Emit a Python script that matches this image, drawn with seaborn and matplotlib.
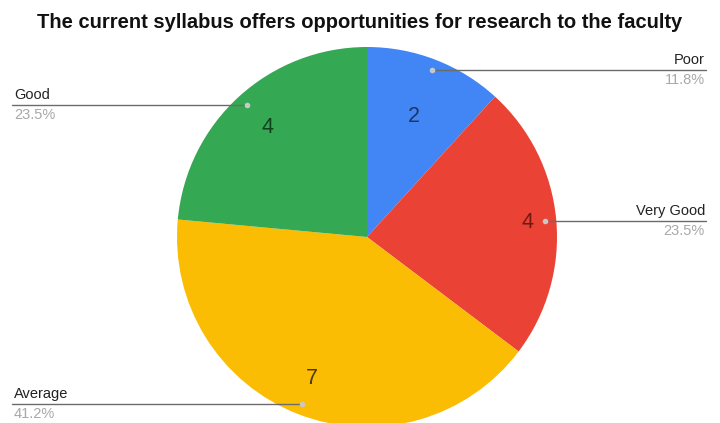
import numpy as np
import matplotlib
matplotlib.use("Agg")
import matplotlib.pyplot as plt
import seaborn as sns

# data
title = "The current syllabus offers opportunities for research to the faculty"
categories = ["Poor", "Very Good", "Average", "Good"]
counts = [2, 4, 7, 4]
colors = ["#4285F4", "#EA4335", "#FBBC04", "#34A853"]
value_colors = ["#1b3768", "#6e1a14", "#4a3a08", "#12401f"]

sns.set_theme(style="white")
plt.rcParams["font.family"] = ["Liberation Sans", "DejaVu Sans"]

W, H = 720, 423
fig = plt.figure(figsize=(W / 100, H / 100), dpi=100)
ax = fig.add_axes([0, 0, 1, 1])

cx, cy, R = 367, H - 237, 190
wedges, _ = ax.pie(counts, colors=colors, startangle=90, counterclock=False,
                   center=(cx, cy), radius=R, frame=True,
                   wedgeprops=dict(linewidth=0))
ax.set_xlim(0, W)
ax.set_ylim(0, H)
ax.axis("off")

total = sum(counts)
value_r = [0.68, 0.85, 0.80, 0.78]
for i, (w, n, cat) in enumerate(zip(wedges, counts, categories)):
    mid = np.deg2rad((w.theta1 + w.theta2) / 2)
    # value inside the slice
    vx = cx + value_r[i] * R * np.cos(mid)
    vy = cy + value_r[i] * R * np.sin(mid)
    ax.text(vx, vy, str(n), ha="center", va="center", fontsize=15.5,
            color=value_colors[i])
    # leader line with dot
    dx = cx + 0.94 * R * np.cos(mid)
    dy = cy + 0.94 * R * np.sin(mid)
    right = np.cos(mid) > 0
    xend = 706 if right else 12
    ax.plot([dx, xend], [dy, dy], color="#6b6b6b", lw=1, zorder=3)
    ax.plot(dx, dy, "o", ms=3, color="#c8c8c8", zorder=4)
    ha = "right" if right else "left"
    tx = 705 if right else 14
    ax.text(tx, dy + 3, cat, ha=ha, va="bottom", fontsize=10.5, color="#222222")
    ax.text(tx, dy - 3, f"{n / total * 100:.1f}%", ha=ha, va="top",
            fontsize=10.5, color="#a8a8a8")

fig.text(0.5, 1 - 22 / H, title, ha="center", va="center", fontsize=14.5,
         fontweight="bold", color="#111111")

fig.savefig("out.png", dpi=100, facecolor="white")
